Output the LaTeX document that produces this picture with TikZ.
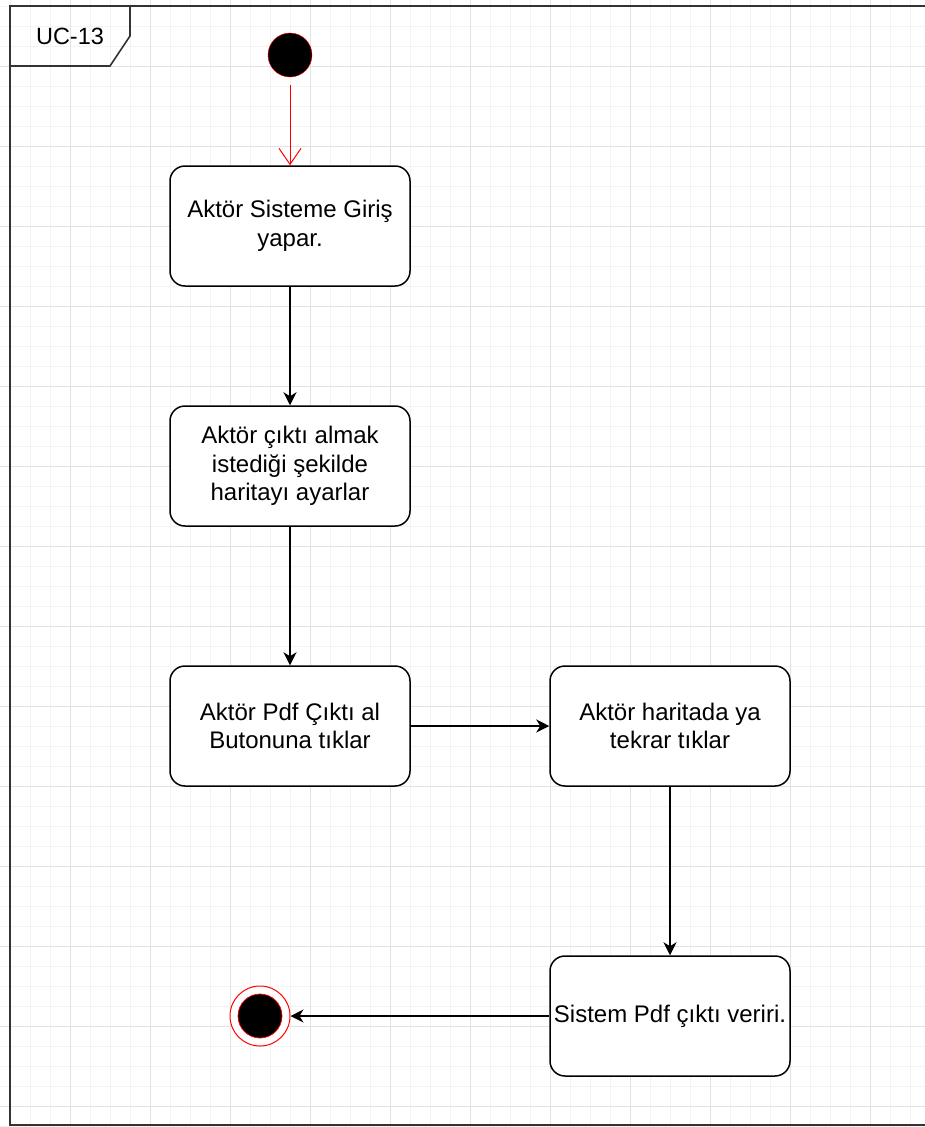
\documentclass[tikz,border=0pt]{standalone}
\usepackage{fontspec}
\setmainfont{Liberation Sans}
\usepackage{tikz}
\usetikzlibrary{arrows.meta}
\definecolor{gridminor}{HTML}{F3F3F3}
\definecolor{gridmajor}{HTML}{E2E2E2}
\definecolor{framegray}{HTML}{333333}

\begin{document}
\begin{tikzpicture}[x=1bp, y=-1bp,
        durum/.style={draw, line width=1.5bp, rounded corners=15bp, fill=white,
            minimum width=240bp, minimum height=120bp, align=center,
            font=\fontsize{24bp}{28.7bp}\selectfont},
        gecis/.style={line width=1.5bp, -{Stealth[length=13bp, width=13bp, inset=4bp]}}]
            \useasboundingbox (0,0) rectangle (925,1127);
            \fill[white] (-10,-10) rectangle (940,1140);
            \clip (-2,-2) rectangle (927,1129);
            \foreach \x in {10,30,...,910} \draw[gridminor, line width=1bp] (\x,-2) -- (\x,1129);
            \foreach \y in {6,26,...,1126} \draw[gridminor, line width=1bp] (-2,\y) -- (927,\y);
            \foreach \x in {70,150,...,910} \draw[gridmajor, line width=1bp] (\x,-2) -- (\x,1129);
            \foreach \y in {66,146,...,1126} \draw[gridmajor, line width=1bp] (-2,\y) -- (927,\y);
            % cerceve
            \draw[framegray, line width=2bp] (927,6) -- (10,6) -- (10,1125) -- (927,1125);
            \draw[framegray, line width=1.6bp] (10,66) -- (110,66) -- (130,36) -- (130,6);
            \node[font=\fontsize{23.5bp}{28bp}\selectfont] (uc) at (70,36) {UC-13};
            % durumlar
            \node[circle, draw=red, fill=black, minimum size=44bp, inner sep=0pt] (basla) at (290,55) {};
            \node[durum] (giris) at (290,226) {Aktör Sisteme Giriş\\yapar.};
            \node[durum] (ayar) at (290,466) {Aktör çıktı almak\\istediği şekilde\\haritayı ayarlar};
            \node[durum] (buton) at (290,726) {Aktör Pdf Çıktı al\\Butonuna tıklar};
            \node[durum] (tekrar) at (670,726) {Aktör haritada ya\\tekrar tıklar};
            \node[durum] (cikti) at (670,1016) {Sistem Pdf çıktı veriri.};
            \node[circle, draw=red, fill=white, line width=1bp, minimum size=60bp, inner sep=0pt] (bitis) at (260,1016) {};
            \node[circle, draw=red, fill=black, line width=0.7bp, minimum size=44bp, inner sep=0pt] (bitisic) at (bitis) {};
            % gecisler
            \draw[red, line width=1bp, shorten <=8bp, -{Straight Barb[length=16bp, width=22bp]}] (basla) -- (giris);
            \draw[gecis] (giris) -- (ayar);
            \draw[gecis] (ayar) -- (buton);
            \draw[gecis] (buton) -- (tekrar);
            \draw[gecis] (tekrar) -- (cikti);
            \draw[gecis] (cikti) -- (bitis);
        \end{tikzpicture}
\end{document}
